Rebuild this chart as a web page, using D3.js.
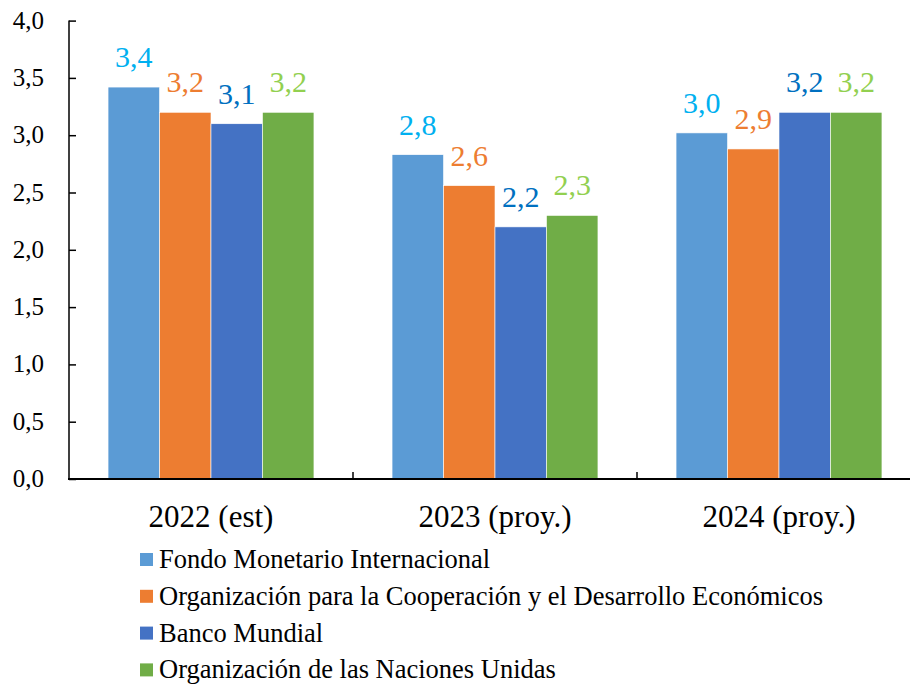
<!DOCTYPE html>
<html><head><meta charset="utf-8">
<script src="https://cdn.jsdelivr.net/npm/d3@7"></script>
</head><body style="margin:0">
<svg id="chart" width="910" height="685"></svg>
<script>
const categories = ["2022 (est)", "2023 (proy.)", "2024 (proy.)"];
const seriesNames = ["Fondo Monetario Internacional",
  "Organización para la Cooperación y el Desarrollo Económicos",
  "Banco Mundial",
  "Organización de las Naciones Unidas"];
const fmi = [3.42, 2.83, 3.02];
const ocde = [3.2, 2.56, 2.88];
const bm = [3.1, 2.2, 3.2];
const onu = [3.2, 2.3, 3.2];
const yTicks = [0, 0.5, 1, 1.5, 2, 2.5, 3, 3.5, 4];
const barColors = ["#5B9BD5", "#ED7D31", "#4472C4", "#70AD47"];
const labelColors = ["#00B0F0", "#ED7D31", "#0070C0", "#92D050"];
const seriesValues = [fmi, ocde, bm, onu];

const svg = d3.select("#chart");
const x0 = d3.scaleBand().domain(categories).range([69, 921]).paddingInner(0.275).paddingOuter(0.1375);
const x1 = d3.scaleBand().domain(d3.range(seriesNames.length)).range([0, x0.bandwidth()]);
const y = d3.scaleLinear().domain([0, 4]).range([479, 20.6]);
const fmt = v => d3.format(".1f")(v).replace(".", ",");

function label(parent, x, yy, size, color, anchor, str) {
  return parent.append("text")
    .attr("x", x).attr("y", yy)
    .attr("text-anchor", anchor)
    .attr("fill", color)
    .attr("font-family", "Liberation Serif")
    .attr("font-size", size)
    .style("font-family", "'Liberation Serif', Tinos, serif")
    .text(str);
}

// y axis
const ya = svg.append("g").attr("transform", "translate(69,0)")
  .call(d3.axisRight(y).tickValues(yTicks).tickSize(7).tickFormat(""));
ya.select(".domain").attr("stroke", "#000").attr("stroke-width", 1.5).attr("d", "M0," + y(4) + "V" + y(0));
ya.selectAll(".tick line").attr("stroke", "#000").attr("stroke-width", 1.5);
const yl = svg.append("g");
yTicks.forEach(t => label(yl, 44, y(t) + 8, 25, "#000", "end", fmt(t)));

// bars
const g = svg.append("g");
categories.forEach((c, ci) => {
  seriesValues.forEach((vals, si) => {
    g.append("rect").attr("x", x0(c) + x1(si)).attr("y", y(vals[ci]))
      .attr("width", x1.bandwidth()).attr("height", y(0) - y(vals[ci]))
      .attr("fill", barColors[si]).attr("stroke", "#fff").attr("stroke-width", 0.6);
    label(g, x0(c) + x1(si) + x1.bandwidth() / 2, y(vals[ci]) - 20, 30, labelColors[si], "middle", fmt(vals[ci]));
  });
});

// x axis
const xa = svg.append("g").attr("transform", "translate(0," + y(0) + ")");
xa.append("line").attr("x1", 68).attr("x2", 921).attr("stroke", "#000").attr("stroke-width", 1.8);
const sep = categories.slice(1).map(c => x0(c) - x0.step() * x0.paddingInner() / 2);
sep.forEach(s => xa.append("line").attr("x1", s).attr("x2", s).attr("y1", 0).attr("y2", -7).attr("stroke", "#000").attr("stroke-width", 1.5));
categories.forEach(c => label(xa, x0(c) + x0.bandwidth() / 2, 48, 31, "#000", "middle", c));

// legend
const lg = svg.append("g");
seriesNames.forEach((n, i) => {
  const yy = 568 + i * 36.8;
  lg.append("rect").attr("x", 140).attr("y", yy - 15).attr("width", 13).attr("height", 13).attr("fill", barColors[i]);
  label(lg, 159, yy, 26.5, "#000", "start", n);
});
</script></body></html>
